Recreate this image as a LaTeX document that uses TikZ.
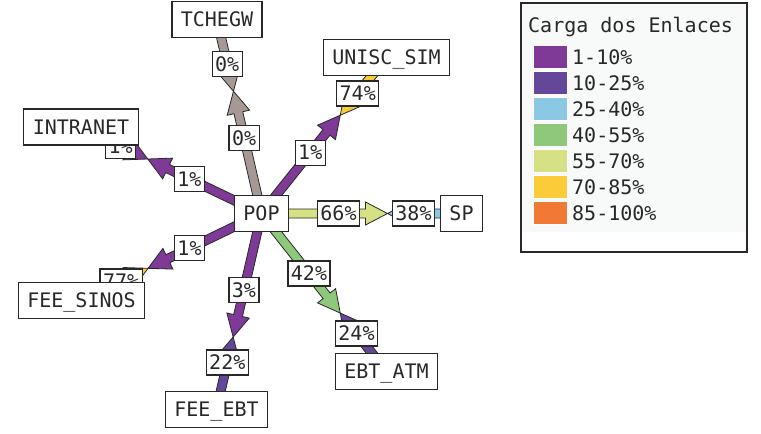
\documentclass[tikz,border=0pt]{standalone}
\usepackage{fontspec}
\newfontfamily\wmfont{DejaVu Sans Mono}
\usetikzlibrary{calc}
\definecolor{c0}{RGB}{166,152,148}
\definecolor{c1}{RGB}{126,58,150}
\definecolor{c2}{RGB}{101,71,154}
\definecolor{c3}{RGB}{139,200,227}
\definecolor{c4}{RGB}{141,200,123}
\definecolor{c5}{RGB}{214,224,133}
\definecolor{c6}{RGB}{252,203,58}
\definecolor{c7}{RGB}{241,121,53}
\definecolor{ink}{RGB}{40,40,40}
\definecolor{legbg}{RGB}{248,249,249}
\newcommand\wmhalf[3]{%
  \coordinate (hA) at (#2);
  \coordinate (hM) at (#3);
  \coordinate (hH) at ($(hM)!22pt!(hA)$);
  \filldraw[arrowpoly, fill=#1]
    ($(hA)!4.5pt!90:(hM)$) -- ($(hH)!4.5pt!-90:(hA)$) -- ($(hH)!11.5pt!-90:(hA)$) --
    (hM) -- ($(hH)!11.5pt!90:(hA)$) -- ($(hH)!4.5pt!90:(hA)$) --
    ($(hA)!4.5pt!-90:(hM)$) -- cycle;
}
\tikzset{
  wmtext/.style={font=\wmfont\fontsize{20}{20}\selectfont, text=ink},
  arrowpoly/.style={draw=ink, line width=0.8pt, line join=miter},
  wmnode/.style={wmtext, draw=ink, line width=1.3pt, fill=white, inner xsep=9pt,
    inner ysep=0pt, minimum height=36pt, text height=14.5pt, text depth=0pt},
  wmlabel/.style={wmtext, draw=ink, line width=1.3pt, fill=white, inner xsep=3pt,
    inner ysep=0pt, minimum height=25pt, text height=14.5pt, text depth=0pt},
  swatch/.style={draw=white, line width=0.6pt, minimum width=34pt, minimum height=23pt, inner sep=0pt},
  legtext/.style={wmtext, anchor=west, inner sep=0pt, text height=14.5pt, text depth=0pt}
}
\begin{document}
\begin{tikzpicture}[x=1pt,y=-1pt]
\useasboundingbox (0,0) rectangle (761,434);
% node positions
\coordinate (pop) at (261.5,213.5);
\coordinate (tch) at (217,19.5);
\coordinate (uni) at (386.5,57.5);
\coordinate (int) at (81,127);
\coordinate (fsi) at (81.5,300.5);
\coordinate (feb) at (216.5,409.5);
\coordinate (eat) at (386.5,371.5);
\coordinate (sp)  at (461.5,213.5);
% meeting points
\foreach \n in {tch,uni,int,fsi,feb,eat,sp}{
  \coordinate (m\n) at ($(pop)!0.63!(\n)$);
}
% link halves
\wmhalf{c0}{pop}{mtch}
\wmhalf{c0}{tch}{mtch}
\wmhalf{c1}{pop}{muni}
\wmhalf{c6}{uni}{muni}
\wmhalf{c1}{pop}{mint}
\wmhalf{c1}{int}{mint}
\wmhalf{c1}{pop}{mfsi}
\wmhalf{c6}{fsi}{mfsi}
\wmhalf{c1}{pop}{mfeb}
\wmhalf{c2}{feb}{mfeb}
\wmhalf{c4}{pop}{meat}
\wmhalf{c2}{eat}{meat}
\wmhalf{c5}{pop}{msp}
\wmhalf{c3}{sp}{msp}
% bandwidth labels
\node[wmlabel] (ltch1) at ($(pop)!0.39!(tch)$) {0\%};
\node[wmlabel] (ltch2) at ($(pop)!0.77!(tch)$) {0\%};
\node[wmlabel] (luni1) at ($(pop)!0.39!(uni)$) {1\%};
\node[wmlabel] (luni2) at ($(pop)!0.77!(uni)$) {74\%};
\node[wmlabel] (lint1) at ($(pop)!0.40!(int)$) {1\%};
\node[wmlabel] (lint2) at ($(pop)!0.78!(int)$) {1\%};
\node[wmlabel] (lfsi1) at ($(pop)!0.40!(fsi)$) {1\%};
\node[wmlabel] (lfsi2) at ($(pop)!0.78!(fsi)$) {77\%};
\node[wmlabel] (lfeb1) at ($(pop)!0.39!(feb)$) {3\%};
\node[wmlabel] (lfeb2) at ($(pop)!0.76!(feb)$) {22\%};
\node[wmlabel] (leat1) at ($(pop)!0.38!(eat)$) {42\%};
\node[wmlabel] (leat2) at ($(pop)!0.76!(eat)$) {24\%};
\node[wmlabel] (lsp1)  at ($(pop)!0.385!(sp)$) {66\%};
\node[wmlabel] (lsp2)  at ($(pop)!0.76!(sp)$) {38\%};
% nodes
\node[wmnode] (POP) at (pop) {POP};
\node[wmnode] (TCHEGW) at (tch) {TCHEGW};
\node[wmnode] (UNISC) at (uni) {UNISC\_SIM};
\node[wmnode] (INTRANET) at (int) {INTRANET};
\node[wmnode] (FEESINOS) at (fsi) {FEE\_SINOS};
\node[wmnode] (FEEEBT) at (feb) {FEE\_EBT};
\node[wmnode] (EBTATM) at (eat) {EBT\_ATM};
\node[wmnode] (SP) at (sp) {SP};
% legend
\fill[legbg] (522,4) rectangle (746,232);
\draw[ink, line width=1.6pt] (521,3) rectangle (747,252);
\node[legtext] (legtitle) at (528,25) {Carga dos Enlaces};
\foreach \c/\t [count=\i from 0] in {c1/1-10\%,c2/10-25\%,c3/25-40\%,c4/40-55\%,c5/55-70\%,c6/70-85\%,c7/85-100\%}{
  \node[swatch, fill=\c] (sw\i) at (550,56.5+26*\i) {};
  \node[legtext] (lt\i) at (572,57.5+26*\i) {\t};
}
\end{tikzpicture}
\end{document}
